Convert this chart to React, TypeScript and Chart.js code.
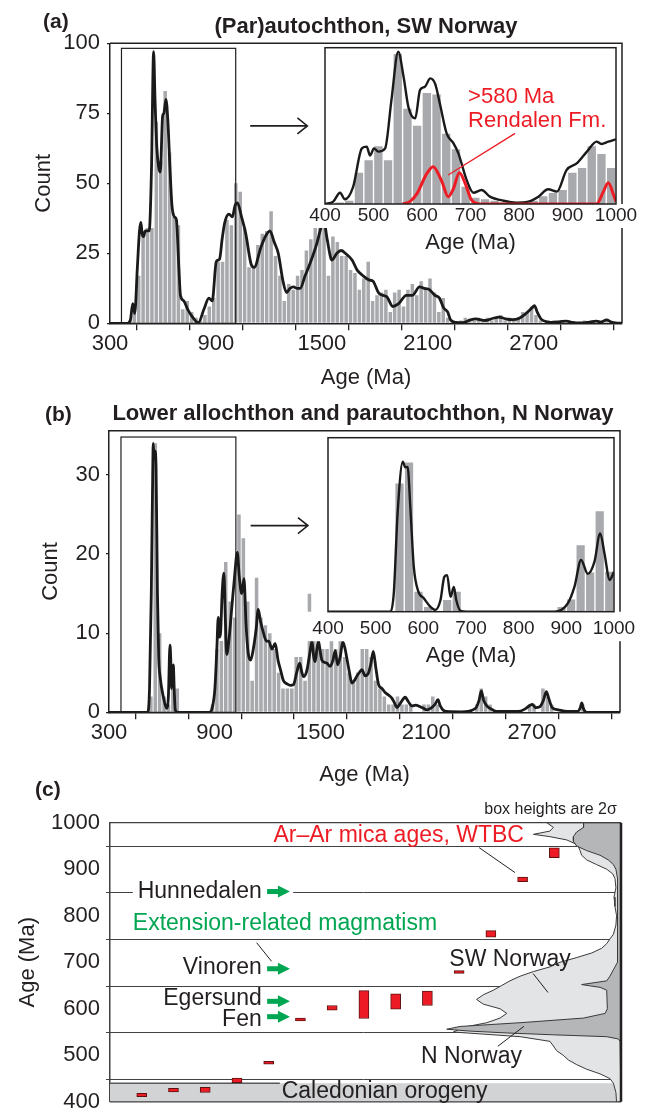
import React, { useEffect, useRef } from 'react';
import { Chart, registerables } from 'chart.js';

Chart.register(...registerables);

const FONT = "'Liberation Sans', Arial, Helvetica, sans-serif";
const INK = '#231f20';
const BAR_GRAY = '#a7a9ac';
const RED = '#ed1c24';
const GREEN = '#00a651';
const LIGHT = '#e3e4e5';
const DARK = '#b5b6b8';

Chart.defaults.font.family = FONT;
Chart.defaults.color = INK;

// ---------------- Panel (a): (Par)autochthon, SW Norway ----------------
const A_BIN_START = 300;
const A_BIN_WIDTH = 25;
const histA = [
  0, 0, 0, 0, 1, 4, 17, 33, 34, 34, 72, 58,
  83, 61, 38, 35, 5, 8, 4, 2, 1, 3, 6, 9,
  22, 22, 37, 35, 50, 47, 34, 20, 20, 28, 32, 33,
  40, 24, 17, 8, 14, 12, 17, 19, 26, 30, 34, 40,
  38, 17, 31, 29, 24, 24, 19, 18, 12, 16, 22, 8,
  10, 11, 12, 4, 11, 12, 6, 12, 14, 10, 15, 12,
  16, 11, 4, 9, 2, 1, 0, 1, 2, 1, 1, 2,
  1, 2, 1, 2, 3, 1, 2, 1, 2, 4, 4, 6,
  3, 1, 0, 0, 1, 0, 1, 0, 0, 0, 0, 1,
  0, 1, 0, 1, 1, 0, 0, 0,
];
const kdeAAge = [
  300, 400, 415, 429, 440, 455, 467, 475, 482, 490,
  500, 522, 535, 547, 555, 565, 575, 585, 598, 605, 617,
  628, 640, 651, 665, 676, 690, 699, 718, 740, 770,
  800, 832, 860, 879, 902, 921, 935, 950, 974, 993,
  1008, 1022, 1045, 1069, 1100, 1117, 1154, 1180, 1206, 1230,
  1253, 1280, 1300, 1320, 1339, 1360, 1377, 1405, 1434, 1472,
  1490, 1510, 1530, 1557, 1585, 1610, 1633, 1671, 1700, 1733,
  1766, 1790, 1823, 1867, 1902, 1935, 1978, 2013, 2053, 2080,
  2109, 2140, 2166, 2190, 2213, 2229, 2260, 2298, 2340, 2372,
  2400, 2428, 2470, 2505, 2540, 2580, 2618, 2656, 2690, 2704,
  2720, 2742, 2780, 2808, 2850, 2885, 2920, 2960, 3000, 3056,
  3080, 3113, 3140, 3170, 3200,
];
const kdeAVal = [
  0, 0, 1, 7, 3.5, 20, 33, 36, 32, 31,
  33, 33, 55, 97, 80, 63, 56, 54, 74, 75, 80,
  72, 55, 42, 38, 37, 20, 10, 8, 5, 2,
  0.2, 5, 9, 8, 22, 23, 30, 36, 39, 38,
  42, 43, 38, 32, 21, 20, 27, 31, 33, 29,
  25, 15, 11, 12.5, 13, 12.5, 12.5, 17, 21.5, 28.6,
  33, 37, 30, 22.6, 25, 26, 25, 22.6, 19, 17,
  15.5, 15, 10.7, 9.5, 6, 7, 10, 10, 13, 12.5,
  12, 10, 9, 5.5, 4, 1.2, 0.3, 0.2, 1.2, 1.6,
  1.2, 1, 1.8, 2.2, 1.6, 1.3, 1.8, 3.5, 5.5, 6.3,
  4, 1.5, 0.5, 0.3, 0.6, 0.8, 0.3, 0.1, 0.3, 0.8,
  0.4, 1.2, 0.4, 0.1, 0,
];
const MAIN_TICK_LABELS = [300, 900, 1500, 2100, 2700];

// inset (a), 400-1000 Ma
const INSET_BIN_START = 400;
const INSET_BIN_WIDTH = 20;
const insetAHist = [
  0, 1, 2, 20, 28, 37, 28, 96, 61, 50,
  71, 70, 45, 35, 11, 4, 3, 2, 1, 0,
  1, 2, 5, 7, 9, 20, 23, 37, 32, 23,
];
const insetAKdeAge = [
  400, 417, 431, 441, 458, 476, 486, 493, 501, 510, 524, 537, 551, 562, 572, 586,
  596, 606, 617, 627, 637, 651, 665, 675, 692, 706, 723, 740, 768, 795, 819, 840,
  860, 878, 898, 919, 940, 960, 970, 984, 1000,
];
const insetAKdeVal = [
  0, 1.5, 7.2, 3, 11, 35.6, 36.7, 31, 35.6, 33.5, 35.6, 66.5, 97.4, 81.4, 62, 54.8,
  73, 75, 80.4, 77, 64, 45, 38.8, 32.4, 15.4, 7.2, 9, 4.7, 2.1, 0.9, 1.5, 4.7,
  9.4, 7.9, 21.7, 26, 33.5, 39.9, 38.4, 39.9, 41.4,
];
const rendalenAge = [560, 575, 590, 610, 623, 641, 654, 665, 677, 689, 702, 720, 960, 974, 984, 995, 1000];
const rendalenVal = [0, 1.5, 6.8, 19.6, 23.9, 14.3, 4.7, 10, 20, 13.2, 2.6, 0, 0, 7.9, 13.6, 5.8, 1.5];
const INSET_TICKS = [400, 500, 600, 700, 800, 900, 1000];

// ---------------- Panel (b): Lower allochthon and parautochthon, N Norway ----------------
const histB = [
  0, 0, 0, 0, 0, 0, 0, 0, 0, 2, 34, 10,
  2, 1, 6, 3, 0, 0, 0, 0, 0, 0, 0, 1,
  8, 9, 19, 14, 12, 25, 22, 14, 4, 17, 12, 11,
  10, 8, 5, 3, 3, 3, 7, 7, 4, 15, 9, 12,
  8, 8, 9, 8, 9, 7, 5, 4, 5, 8, 8, 7,
  4, 3, 2, 1, 1, 2, 1, 1, 1, 0, 0, 1,
  1, 2, 1, 0, 0, 0, 0, 0, 0, 0, 0, 1,
  3, 2, 1, 0, 0, 0, 0, 0, 0, 0, 0, 1,
  1, 0, 3, 2, 1, 0, 0, 0, 0, 0, 0, 1,
  0, 0, 0, 0, 0, 0, 0, 0,
];
const kdeBAge = [
  300, 520, 530, 540, 548, 551, 556, 561, 567, 575,
  582, 590, 608, 627, 637, 646, 650, 655, 660, 665,
  670, 676, 690, 870, 885, 901, 912, 920, 926, 933,
  942, 952, 960, 968, 980, 996, 1012, 1028, 1040, 1053,
  1066, 1078, 1090, 1104, 1119, 1135, 1147, 1160, 1177, 1194,
  1206, 1225, 1243, 1260, 1272, 1290, 1310, 1330, 1347, 1365,
  1382, 1395, 1404, 1423, 1440, 1452, 1462, 1470, 1480, 1489,
  1500, 1508, 1525, 1537, 1555, 1570, 1584, 1597, 1612, 1627,
  1640, 1650, 1665, 1678, 1692, 1707, 1720, 1735, 1754, 1773,
  1785, 1800, 1815, 1830, 1850, 1867, 1885, 1905, 1920, 1934,
  1955, 1981, 2000, 2019, 2040, 2066, 2085, 2104, 2125, 2150,
  2167, 2180, 2200, 2217, 2300, 2380, 2400, 2413, 2425, 2444,
  2470, 2500, 2620, 2660, 2690, 2703, 2720, 2745, 2765, 2782,
  2795, 2815, 2850, 2900, 2960, 2975, 2983, 2992, 3010, 3200,
];
const kdeBVal = [
  0, 0, 3, 15, 30, 34, 32, 33, 31, 15,
  7, 4.5, 2, 0.5, 2, 8.5, 7, 3, 5, 6,
  3, 0.3, 0, 0, 0.5, 3, 8, 12, 9.5, 10,
  15, 17.6, 12, 7.3, 9, 13, 17, 20.2, 17, 15,
  16.9, 11, 7.5, 6.6, 8, 10.5, 13, 11.5, 10, 9,
  9, 8, 8.7, 6.5, 5.5, 4, 3.6, 3.4, 3.5, 5,
  6.2, 5, 4.5, 5.3, 7.5, 9, 7, 6.4, 8, 9,
  7.5, 6.6, 6.3, 6.2, 5.8, 6.5, 7.8, 6, 7, 8.9,
  8, 6.8, 5, 3.7, 4, 4.6, 5, 5.4, 4.6, 5,
  6, 7.7, 5.5, 3.5, 3, 2.5, 2.2, 1.8, 1.2, 0.6,
  1.2, 1.9, 1.3, 0.8, 0.9, 0.7, 0.5, 0.3, 0.5, 1,
  1.6, 0.8, 0.2, 0.1, 0.05, 0.5, 1.5, 2.7, 1.6, 0.8,
  0.4, 0.1, 0.1, 0.4, 0.9, 1, 0.6, 0.7, 1.5, 2.6,
  1.8, 0.6, 0.3, 0.1, 0.1, 0.6, 1.2, 0.5, 0, 0,
];
const insetBHist = [
  0, 0, 0, 0, 0, 0, 0, 29.5, 34.3, 4.6,
  1.1, 0, 2.7, 4.6, 0, 0, 0, 0, 0, 0,
  0, 0, 0, 0, 1.1, 2.8, 15.3, 9, 23.1, 9.2,
];
const insetBKdeAge = [
  400, 531, 538, 546, 557, 562, 567, 573, 580, 589, 601, 615, 625, 636, 644, 650,
  657, 664, 669, 678, 690, 875, 903, 917, 931, 945, 959, 971, 980, 991, 1000,
];
const insetBKdeVal = [
  0, 0, 4.2, 22.6, 34.5, 33.2, 33.3, 23.4, 10.3, 4.8, 3.1, 1.1, 0.4, 2.7, 8, 8.4,
  3.4, 5.7, 2.7, 0.2, 0, 0, 1.9, 5.7, 11.9, 8.7, 11.5, 18, 13.4, 7.3, 9.2,
];

// ---------------- Panel (c) ----------------
const arPosition = [1, 2, 3, 4, 5, 6, 7, 8, 9, 10, 11, 12, 13, 14];
const arLow = [411, 421, 420, 441, 481, 574, 597, 579, 599, 607, 676, 754, 873, 925];
const arHigh = [418, 429, 431, 451, 487, 580, 607, 639, 632, 638, 682, 768, 883, 946];
const C_XMAX = 16.1;
const swAge = [
  1000, 990, 982, 975, 970, 963, 955, 948, 940, 930,
  920, 910, 900, 890, 880, 860, 840, 820, 800, 780,
  760, 750, 740, 730, 720, 710, 700, 690, 680, 670,
  660, 650, 640, 630, 620, 610, 600, 590, 580, 570,
  560, 550, 540, 530, 520, 510, 500, 490, 480, 470,
  460, 450, 440, 420, 400,
];
const swWidth = [
  2.34, 2.13, 2.24, 2.76, 2.24, 1.71, 1.45, 1.34, 1.29, 1.24,
  1.08, 0.77, 0.45, 0.26, 0.19, 0.16, 0.22, 0.19, 0.14, 0.16,
  0.24, 0.35, 0.45, 0.61, 0.92, 1.4, 1.92, 2.24, 2.76, 3.18,
  3.5, 3.76, 4.02, 4.34, 4.55, 4.34, 3.81, 3.6, 3.81, 4.23,
  4.97, 5.28, 3.18, 2.24, 2.13, 2.03, 1.82, 1.66, 1.4, 1.08,
  0.66, 0.35, 0.24, 0.16, 0.14,
];
const nAge = [
  1000, 990, 980, 970, 960, 950, 940, 930, 920, 910, 900, 880,
  700, 690, 670, 660, 652, 646, 640,
  600, 590, 580, 570, 562, 556, 552, 548, 544, 540, 535, 530, 400,
];
const nWidth = [
  1.18, 1.18, 1.4, 1.5, 1.5, 1.4, 1.08, 0.66, 0.4, 0.24, 0.16, 0.11,
  0.11, 0.19, 0.35, 0.45, 1.24, 0.66, 0.45,
  0.43, 0.5, 1.18, 3.18, 5.07, 5.49, 4.76, 3.6, 2.13, 0.45, 0.08, 0.03, 0,
];
const cDividers = [950, 850, 750, 650, 550, 450];
const caledonianRange = [400, 440];
const magmatismAges = [852, 686, 616, 583];

// ---------------- helpers ----------------
type Pt = { x: number; y: number };
const pairs = (xs: number[], ys: number[]): Pt[] => xs.map((x, i) => ({ x, y: ys[i] }));
const binned = (start: number, width: number, counts: number[]): Pt[] =>
  counts.map((c, i) => ({ x: start + width * i + width / 2, y: c }));

const baseOptions = {
  responsive: false,
  maintainAspectRatio: false,
  animation: false as const,
  devicePixelRatio: 1,
  events: [] as any[],
  plugins: { legend: { display: false }, tooltip: { enabled: false } },
};

function text(ctx: any, s: string, x: number, y: number, align: string, color: string, size: number, weight = '') {
  ctx.font = `${weight ? weight + ' ' : ''}${size}px ${FONT}`;
  ctx.fillStyle = color;
  ctx.textAlign = align;
  ctx.textBaseline = 'middle';
  ctx.fillText(s, x, y);
}

function seg(ctx: any, x0: number, y0: number, x1: number, y1: number) {
  ctx.beginPath();
  ctx.moveTo(x0, y0);
  ctx.lineTo(x1, y1);
  ctx.stroke();
}

type MainOpts = {
  label: string; labelX: number; labelBase: number;
  title: string; titleX: number; titleBase: number;
  boxFrom: number; boxTo: number; boxTop: number;
  arrowFrom: number; arrowTo: number; arrowY: number;
};

function mainDeco(o: MainOpts) {
  return {
    id: 'mainDeco',
    afterDatasetsDraw(chart: any) {
      const { ctx, chartArea: ca } = chart;
      const xs = chart.scales.x;
      const ys = chart.scales.y;
      ctx.save();
      ctx.strokeStyle = INK;
      ctx.lineWidth = 1.5;
      ctx.beginPath();
      ctx.moveTo(ca.left, ca.top);
      ctx.lineTo(ca.right, ca.top);
      ctx.lineTo(ca.right, ca.bottom);
      ctx.stroke();
      const bx0 = xs.getPixelForValue(o.boxFrom);
      const bx1 = xs.getPixelForValue(o.boxTo);
      const by0 = ys.getPixelForValue(o.boxTop);
      const by1 = ys.getPixelForValue(0);
      ctx.lineWidth = 1.2;
      ctx.strokeRect(bx0, by0, bx1 - bx0, by1 - by0);
      const ax0 = xs.getPixelForValue(o.arrowFrom);
      const ax1 = xs.getPixelForValue(o.arrowTo);
      const ay = ys.getPixelForValue(o.arrowY);
      ctx.lineWidth = 1.6;
      ctx.beginPath();
      ctx.moveTo(ax0, ay);
      ctx.lineTo(ax1, ay);
      ctx.moveTo(ax1 - 10, ay - 8);
      ctx.lineTo(ax1, ay);
      ctx.lineTo(ax1 - 10, ay + 8);
      ctx.stroke();
      ctx.fillStyle = INK;
      ctx.textBaseline = 'alphabetic';
      ctx.textAlign = 'left';
      ctx.font = `bold 21px ${FONT}`;
      ctx.fillText(o.label, o.labelX, o.labelBase);
      ctx.textAlign = 'center';
      ctx.font = `bold 22px ${FONT}`;
      ctx.fillText(o.title, o.titleX, o.titleBase);
      ctx.restore();
    },
  };
}

function mainConfig(p: {
  hist: number[]; kdeAge: number[]; kdeVal: number[]; ymax: number; ystep: number;
  padTop: number; padRight: number; padBottom: number; yWidth: number; xHeight: number;
  yTitlePad: number; yLabelPad: number; deco: any;
}) {
  return {
    type: 'bar',
    data: {
      datasets: [
        {
          type: 'line', data: pairs(p.kdeAge, p.kdeVal), borderColor: '#1a1a1a', borderWidth: 2.8,
          pointRadius: 0, cubicInterpolationMode: 'monotone', fill: false, order: 0,
        },
        {
          type: 'bar', data: binned(A_BIN_START, A_BIN_WIDTH, p.hist), backgroundColor: BAR_GRAY,
          categoryPercentage: 0.8, barPercentage: 1, order: 1,
        },
      ],
    },
    options: {
      ...baseOptions,
      layout: { padding: { left: 0, right: p.padRight, top: p.padTop, bottom: p.padBottom } },
      scales: {
        x: {
          type: 'linear', min: 300, max: 3200, offset: false,
          ticks: {
            stepSize: 300, includeBounds: false, autoSkip: false, maxRotation: 0, minRotation: 0,
            padding: 0, font: { size: 22 }, color: INK,
            callback: (v: number) => (MAIN_TICK_LABELS.includes(v) ? String(v) : ''),
          },
          grid: { drawOnChartArea: false, tickLength: 7, color: INK, lineWidth: 1.3 },
          border: { color: INK, width: 1.5 },
          title: { display: true, text: 'Age (Ma)', font: { size: 22 }, color: INK, padding: { top: 0, bottom: 0 } },
          afterFit: (s: any) => { s.height = p.xHeight; },
        },
        y: {
          type: 'linear', min: 0, max: p.ymax,
          ticks: {
            stepSize: p.ystep, includeBounds: false, padding: p.yLabelPad, font: { size: 22 }, color: INK,
            callback: (v: number) => String(v),
          },
          grid: { drawOnChartArea: false, tickLength: 3, color: INK, lineWidth: 1.2 },
          border: { color: INK, width: 1.5 },
          title: { display: true, text: 'Count', font: { size: 22 }, color: INK, padding: { top: p.yTitlePad, bottom: 0 } },
          afterFit: (s: any) => { s.width = p.yWidth; },
        },
      },
    },
    plugins: [p.deco],
  };
}

function insetDeco(stripLeft: number, stripRight: number, stripHeight: number, extra?: (chart: any) => void) {
  return {
    id: 'insetDeco',
    beforeDraw(chart: any) {
      const { ctx, chartArea: ca } = chart;
      ctx.save();
      ctx.fillStyle = '#ffffff';
      ctx.fillRect(ca.left - 2, ca.top - 2, ca.right - ca.left + 4, ca.bottom - ca.top + 4);
      ctx.fillRect(stripLeft, ca.bottom, stripRight - stripLeft, stripHeight);
      ctx.restore();
    },
    afterDatasetsDraw(chart: any) {
      const { ctx, chartArea: ca } = chart;
      ctx.save();
      ctx.strokeStyle = INK;
      ctx.lineWidth = 1.5;
      ctx.strokeRect(ca.left, ca.top, ca.right - ca.left, ca.bottom - ca.top);
      if (extra) extra(chart);
      ctx.restore();
    },
  };
}

function insetConfig(p: {
  hist: number[]; kdeAge: number[]; kdeVal: number[]; extraSets: any[]; ymax: number;
  pad: { left: number; right: number; top: number; bottom: number }; xHeight: number;
  labelPad: number; titlePad: number; deco: any;
}) {
  return {
    type: 'bar',
    data: {
      datasets: [
        ...p.extraSets,
        {
          type: 'line', data: pairs(p.kdeAge, p.kdeVal), borderColor: '#1a1a1a', borderWidth: 2.4,
          pointRadius: 0, cubicInterpolationMode: 'monotone', fill: false, order: 1,
        },
        {
          type: 'bar', data: binned(INSET_BIN_START, INSET_BIN_WIDTH, p.hist), backgroundColor: BAR_GRAY,
          categoryPercentage: 0.86, barPercentage: 1, order: 2,
        },
      ],
    },
    options: {
      ...baseOptions,
      layout: { padding: p.pad },
      scales: {
        x: {
          type: 'linear', min: 400, max: 1000, offset: false,
          ticks: {
            stepSize: 100, autoSkip: false, maxRotation: 0, minRotation: 0, padding: p.labelPad,
            font: { size: 19 }, color: INK,
            callback: (v: number) => (INSET_TICKS.includes(v) ? String(v) : ''),
          },
          grid: { display: false, drawTicks: false },
          border: { display: false },
          title: { display: true, text: 'Age (Ma)', font: { size: 22 }, color: INK, padding: { top: 0, bottom: p.titlePad } },
          afterFit: (s: any) => { s.height = p.xHeight; },
        },
        y: { type: 'linear', display: false, min: 0, max: p.ymax },
      },
    },
    plugins: [p.deco],
  };
}

// ---------------- configs ----------------
const mainAConfig = () =>
  mainConfig({
    hist: histA, kdeAge: kdeAAge, kdeVal: kdeAVal, ymax: 100, ystep: 25,
    padTop: 43.3, padRight: 29, padBottom: 0.7, yWidth: 110, xHeight: 68, yTitlePad: 30.8, yLabelPad: 7,
    deco: mainDeco({
      label: '(a)', labelX: 43, labelBase: 28,
      title: '(Par)autochthon, SW Norway', titleX: 366, titleBase: 33,
      boxFrom: 365, boxTo: 1012, boxTop: 98.2, arrowFrom: 1094, arrowTo: 1418, arrowY: 70.5,
    }),
  });

const insetAConfig = () =>
  insetConfig({
    hist: insetAHist, kdeAge: insetAKdeAge, kdeVal: insetAKdeVal, ymax: 100,
    extraSets: [
      {
        type: 'line', data: pairs(rendalenAge, rendalenVal), borderColor: RED, borderWidth: 3,
        pointRadius: 0, cubicInterpolationMode: 'monotone', fill: false, order: 0,
      },
    ],
    pad: { left: 325, right: 35, top: 47.7, bottom: 132 }, xHeight: 56, labelPad: 0, titlePad: 3.8,
    deco: insetDeco(305, 651, 24, (chart: any) => {
      const { ctx } = chart;
      const xs = chart.scales.x;
      const ys = chart.scales.y;
      text(ctx, '>580 Ma', xs.getPixelForValue(695), ys.getPixelForValue(68.5), 'left', RED, 22);
      text(ctx, 'Rendalen Fm.', xs.getPixelForValue(695), ys.getPixelForValue(53.2), 'left', RED, 22);
      ctx.strokeStyle = RED;
      ctx.lineWidth = 1.3;
      seg(ctx, xs.getPixelForValue(792), ys.getPixelForValue(45.2), xs.getPixelForValue(654), ys.getPixelForValue(18.6));
    }),
  });

const mainBConfig = () =>
  mainConfig({
    hist: histB, kdeAge: kdeBAge, kdeVal: kdeBVal, ymax: 35.6, ystep: 10,
    padTop: 38.7, padRight: 31, padBottom: 3.7, yWidth: 109, xHeight: 76, yTitlePad: 37.8, yLabelPad: 6,
    deco: mainDeco({
      label: '(b)', labelX: 45, labelBase: 29,
      title: 'Lower allochthon and parautochthon, N Norway', titleX: 363, titleBase: 28,
      boxFrom: 368, boxTo: 1020, boxTop: 34.8, arrowFrom: 1104, arrowTo: 1429, arrowY: 23.6,
    }),
  });

const insetBConfig = () =>
  insetConfig({
    hist: insetBHist, kdeAge: insetBKdeAge, kdeVal: insetBKdeVal, ymax: 40, extraSets: [],
    pad: { left: 328, right: 37, top: 45.7, bottom: 118.3 }, xHeight: 62, labelPad: 6, titlePad: 4.5,
    deco: insetDeco(305, 651, 29.5),
  });

function sidePolygon(ages: number[], widths: number[]): Pt[] {
  const pts = ages.map((a, i) => ({ x: C_XMAX - widths[i], y: a }));
  pts.push({ x: C_XMAX, y: ages[ages.length - 1] });
  pts.push({ x: C_XMAX, y: ages[0] });
  pts.push({ x: C_XMAX - widths[0], y: ages[0] });
  return pts;
}

function greenArrow(ctx: any, x0: number, x1: number, y: number) {
  ctx.fillStyle = GREEN;
  ctx.fillRect(x0, y - 2.5, x1 - x0 - 10, 5);
  ctx.beginPath();
  ctx.moveTo(x1 - 12, y - 6);
  ctx.lineTo(x1, y);
  ctx.lineTo(x1 - 12, y + 6);
  ctx.closePath();
  ctx.fill();
}

const cDeco = {
  id: 'cDeco',
  beforeDatasetsDraw(chart: any) {
    const { ctx, chartArea: ca } = chart;
    const xs = chart.scales.x;
    const ys = chart.scales.y;
    ctx.save();
    const yTop = ys.getPixelForValue(caledonianRange[1]);
    const yBot = ys.getPixelForValue(caledonianRange[0]);
    ctx.fillStyle = '#d1d3d4';
    ctx.fillRect(ca.left, yTop, ca.right - ca.left, yBot - yTop);
    ctx.strokeStyle = '#58595b';
    ctx.lineWidth = 1.4;
    seg(ctx, ca.left, yTop, xs.getPixelForValue(5.35), yTop);
    ctx.strokeStyle = '#414042';
    ctx.lineWidth = 1;
    for (const v of cDividers) {
      const y = Math.round(ys.getPixelForValue(v)) + 0.5;
      seg(ctx, ca.left - 4, y, ca.right, y);
    }
    ctx.fillStyle = '#ffffff';
    const yh = ys.getPixelForValue(850);
    const hx0 = xs.getPixelForValue(0.72);
    const hx1 = xs.getPixelForValue(5.77);
    ctx.fillRect(hx0, yh - 3, hx1 - hx0, 6);
    ctx.restore();
  },
  afterDatasetsDraw(chart: any) {
    const { ctx, chartArea: ca } = chart;
    const xs = chart.scales.x;
    const ys = chart.scales.y;
    const X = (v: number) => xs.getPixelForValue(v);
    const Y = (v: number) => ys.getPixelForValue(v);
    ctx.save();
    ctx.strokeStyle = '#414042';
    ctx.lineWidth = 1.2;
    seg(ctx, ca.left, ca.top, ca.right, ca.top);
    seg(ctx, ca.left, ca.bottom, ca.right, ca.bottom);
    ctx.strokeStyle = INK;
    ctx.lineWidth = 2.5;
    seg(ctx, ca.right, ca.top, ca.right, ca.bottom);

    // labels
    text(ctx, 'Ar–Ar mica ages, WTBC', X(5.15), Y(972), 'left', RED, 23);
    text(ctx, 'Hunnedalen', X(4.78), Y(852.5), 'right', INK, 23);
    text(ctx, 'Extension-related magmatism', X(0.72), Y(782), 'left', GREEN, 23);
    text(ctx, 'Vinoren', X(4.78), Y(689), 'right', INK, 23);
    text(ctx, 'Egersund', X(4.78), Y(622), 'right', INK, 23);
    text(ctx, 'Fen', X(4.78), Y(576), 'right', INK, 23);
    text(ctx, 'SW Norway', X(10.69), Y(706), 'left', INK, 23);
    text(ctx, 'N Norway', X(9.8), Y(497), 'left', INK, 23);
    text(ctx, 'Caledonian orogeny', X(5.41), Y(421), 'left', INK, 23);
    text(ctx, 'box heights are 2σ', X(15.97), Y(1029), 'right', INK, 16);

    // arrows
    for (const a of magmatismAges) greenArrow(ctx, X(4.95), X(5.67), Y(a));

    // leader lines
    ctx.strokeStyle = INK;
    ctx.lineWidth = 1;
    seg(ctx, X(4.62), Y(742), X(5.09), Y(702));
    seg(ctx, X(11.63), Y(946.4), X(12.76), Y(892.8));
    seg(ctx, X(13.33), Y(675.8), X(13.8), Y(635));
    seg(ctx, X(12.22), Y(519.4), X(13.04), Y(562.2));

    // panel label
    ctx.fillStyle = INK;
    ctx.textAlign = 'left';
    ctx.textBaseline = 'alphabetic';
    ctx.font = `bold 21px ${FONT}`;
    ctx.fillText('(c)', 35, 16);
    ctx.restore();
  },
};

const panelCConfig = () => ({
  type: 'bar',
  data: {
    datasets: [
      {
        type: 'bar', data: arPosition.map((p, i) => ({ x: p, y: [arLow[i], arHigh[i]] })),
        backgroundColor: RED, borderColor: '#5c1212', borderWidth: 1, borderSkipped: false,
        barThickness: 10, order: 0,
      },
      {
        type: 'line', data: sidePolygon(nAge, nWidth), borderColor: '#3a3a3a', borderWidth: 1,
        backgroundColor: DARK, fill: 'shape', pointRadius: 0, tension: 0, order: 1,
      },
      {
        type: 'line', data: sidePolygon(swAge, swWidth), borderColor: '#3a3a3a', borderWidth: 1,
        backgroundColor: LIGHT, fill: 'shape', pointRadius: 0, tension: 0, order: 2,
      },
    ],
  },
  options: {
    ...baseOptions,
    layout: { padding: { left: 0, right: 30, top: 42.7, bottom: 22.3 } },
    scales: {
      x: { type: 'linear', display: false, min: 0, max: C_XMAX, offset: false },
      y: {
        type: 'linear', min: 400, max: 1000,
        ticks: { stepSize: 100, padding: 10, font: { size: 22 }, color: INK, callback: (v: number) => String(v) },
        grid: { display: false, drawTicks: false },
        border: { color: '#414042', width: 1.5 },
        title: { display: true, text: 'Age (Ma)', font: { size: 22 }, color: INK, padding: { top: 14.3, bottom: 0 } },
        afterFit: (s: any) => { s.width = 110; },
      },
    },
  },
  plugins: [cDeco],
});

function ChartCanvas({ top, height, make }: { top: number; height: number; make: () => any }) {
  const ref = useRef<HTMLCanvasElement>(null);
  useEffect(() => {
    const chart = new Chart(ref.current as HTMLCanvasElement, make());
    return () => chart.destroy();
  }, []);
  return (
    <canvas
      ref={ref}
      width={651}
      height={height}
      style={{ position: 'absolute', left: 0, top, width: 651, height, display: 'block' }}
    />
  );
}

export default function App() {
  return (
    <div
      style={{
        position: 'absolute', left: 0, top: 0, width: 651, height: 1113,
        background: '#ffffff', overflow: 'hidden',
      }}
    >
      <ChartCanvas top={0} height={392} make={mainAConfig} />
      <ChartCanvas top={0} height={392} make={insetAConfig} />
      <ChartCanvas top={392} height={400} make={mainBConfig} />
      <ChartCanvas top={392} height={400} make={insetBConfig} />
      <ChartCanvas top={780} height={345} make={panelCConfig} />
    </div>
  );
}
